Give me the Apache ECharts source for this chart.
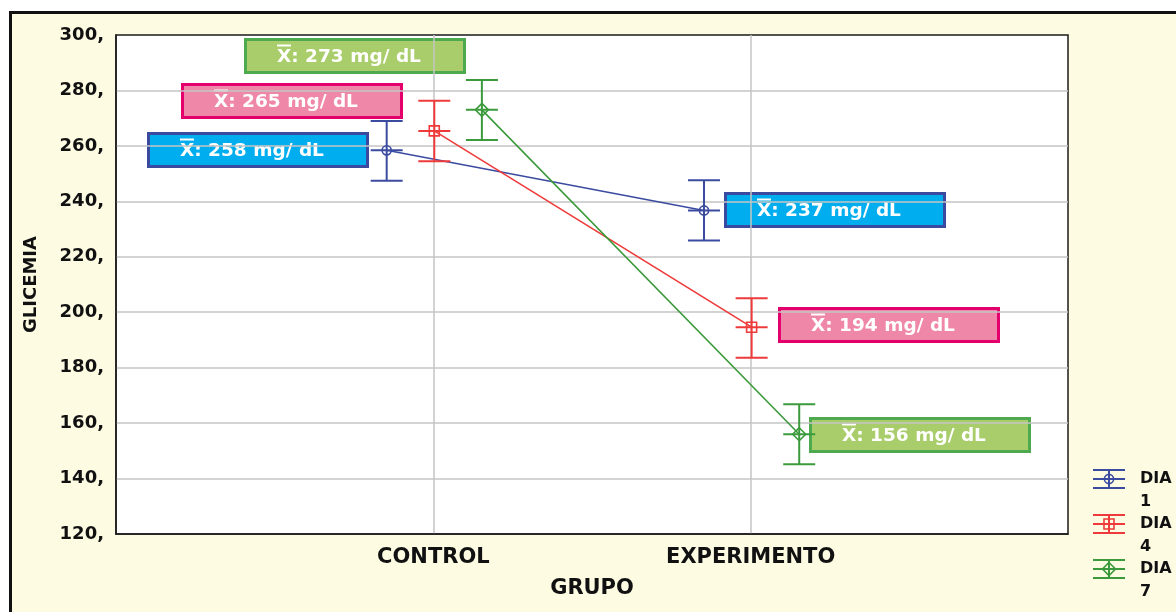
<!DOCTYPE html>
<html>
<head>
<meta charset="utf-8">
<script src="https://cdn.jsdelivr.net/npm/echarts@6/dist/echarts.min.js"></script>
<style>html,body{margin:0;padding:0;background:#fff;}#c{width:1176px;height:612px;}</style>
</head>
<body>
<div id="c"></div>
<script>
// ---- data ----
const categories = ['CONTROL', 'EXPERIMENTO'];
const seriesNames = ['DIA 1', 'DIA 4', 'DIA 7'];
const legendLabels = ['DIA\n1', 'DIA\n4', 'DIA\n7'];
const yTicks = [120, 140, 160, 180, 200, 220, 240, 260, 280, 300];

const dia1Mean = [258.4, 236.7];
const dia1Low  = [247.4, 225.9];
const dia1High = [269.0, 247.6];

const dia4Mean = [265.4, 194.6];
const dia4Low  = [254.5, 183.6];
const dia4High = [276.3, 205.0];

const dia7Mean = [273.0, 156.0];
const dia7Low  = [262.1, 145.2];
const dia7High = [283.8, 166.8];

const dia1Label = [258, 237];
const dia4Label = [265, 194];
const dia7Label = [273, 156];

// ---- styling ----
const FONT = '"DejaVu Sans", sans-serif';
const colors = ['#3B4BA0', '#EE3A3A', '#3B9A3B'];
const boxFill = ['#00AEEF', '#EF87A8', '#A9CD6B'];
const boxStroke = ['#3A4A9E', '#E4006C', '#4FAA4F'];
const markers = ['circle', 'square', 'diamond'];
const offsets = [-0.147, 0.003, 0.153];
const means = [dia1Mean, dia4Mean, dia7Mean];
const lows = [dia1Low, dia4Low, dia7Low];
const highs = [dia1High, dia4High, dia7High];
const labelVals = [dia1Label, dia4Label, dia7Label];
// box layout (pixel left/top) for [series][category]
const boxPos = [
  [[147, 132], [724, 192]],
  [[181, 83], [778, 307]],
  [[244, 38], [809, 417]]
];

function markerEl(type, cx, cy, color) {
  const style = { stroke: color, lineWidth: 1.6, fill: 'rgba(255,255,255,0)' };
  if (type === 'circle') return { type: 'circle', shape: { cx, cy, r: 4.6 }, style };
  if (type === 'square') return { type: 'rect', shape: { x: cx - 5, y: cy - 5, width: 10, height: 10 }, style };
  return { type: 'polygon', shape: { points: [[cx, cy - 6.5], [cx + 6.5, cy], [cx, cy + 6.5], [cx - 6.5, cy]] }, style };
}

function errorGlyph(cx, cy, yl, yh, hw, color, marker) {
  const ls = { stroke: color, lineWidth: 2 };
  return [
    { type: 'line', shape: { x1: cx, y1: yh, x2: cx, y2: yl }, style: ls },
    { type: 'line', shape: { x1: cx - hw, y1: yh, x2: cx + hw, y2: yh }, style: ls },
    { type: 'line', shape: { x1: cx - hw, y1: yl, x2: cx + hw, y2: yl }, style: ls },
    { type: 'line', shape: { x1: cx - hw, y1: cy, x2: cx + hw, y2: cy }, style: ls },
    markerEl(marker, cx, cy, color)
  ];
}

const series = [];
seriesNames.forEach((name, i) => {
  series.push({
    type: 'line', name: name,
    data: categories.map((c, k) => [k + 1 + offsets[i], means[i][k]]),
    symbol: 'none',
    lineStyle: { color: colors[i], width: 1.6 },
    z: 2, silent: true, animation: false
  });
  series.push({
    type: 'custom', name: name,
    data: categories.map((c, k) => [k + 1 + offsets[i], means[i][k], lows[i][k], highs[i][k]]),
    renderItem: function (params, api) {
      const pm = api.coord([api.value(0), api.value(1)]);
      const pl = api.coord([api.value(0), api.value(2)]);
      const ph = api.coord([api.value(0), api.value(3)]);
      return { type: 'group', children: errorGlyph(pm[0], pm[1], pl[1], ph[1], 16, colors[i], markers[i]) };
    },
    z: 3, silent: true, animation: false
  });
});

const graphics = [
  { type: 'rect', z: -100, shape: { x: 10.5, y: 12.5, width: 1200, height: 650 },
    style: { fill: '#FEFBE3', stroke: '#111', lineWidth: 3 }, silent: true }
];
// annotation boxes
seriesNames.forEach((name, i) => {
  categories.forEach((c, k) => {
    const [bx, by] = boxPos[i][k];
    graphics.push({
      type: 'group', z: 100, x: bx, y: by,
      children: [
        { type: 'rect', shape: { x: 1.5, y: 1.5, width: 219, height: 33 },
          style: { fill: boxFill[i], stroke: boxStroke[i], lineWidth: 3 } },
        { type: 'rect', shape: { x: 33, y: 6.5, width: 14, height: 2 }, style: { fill: '#fff' } },
        { type: 'text', x: 33, y: 19,
          style: { text: 'X: ' + labelVals[i][k] + ' mg/ dL', fill: '#fff',
                   font: 'bold 18.5px ' + FONT, textVerticalAlign: 'middle', textAlign: 'left' } }
      ]
    });
  });
});
// legend
seriesNames.forEach((name, i) => {
  const cx = 1109, cy = 479 + 45 * i;
  graphics.push({
    type: 'group', z: 100,
    children: errorGlyph(cx, cy, cy + 9, cy - 9, 16, colors[i], markers[i]).concat([
      { type: 'text', x: 1140, y: cy - 12,
        style: { text: legendLabels[i], fill: '#111', font: 'bold 16px ' + FONT,
                 lineHeight: 23, textVerticalAlign: 'top', textAlign: 'left' } }
    ])
  });
});

const chart = echarts.init(document.getElementById('c'), null, { renderer: 'canvas' });
chart.setOption({
  backgroundColor: '#ffffff',
  animation: false,
  textStyle: { fontFamily: FONT },
  grid: { left: 116, top: 35, right: 108, bottom: 78, show: true,
          backgroundColor: '#ffffff', borderColor: '#1a1a1a', borderWidth: 1.5 },
  xAxis: {
    type: 'value', min: 0, max: 3, interval: 1,
    name: 'GRUPO', nameLocation: 'middle', nameGap: 44,
    nameTextStyle: { fontFamily: FONT, fontWeight: 'bold', fontSize: 21, color: '#111' },
    axisLine: { show: true, lineStyle: { color: '#1a1a1a', width: 1.5 } },
    axisTick: { show: false },
    axisLabel: { margin: 13, fontFamily: FONT, fontWeight: 'bold', fontSize: 21, color: '#111',
                 formatter: v => (v >= 1 && v <= categories.length) ? categories[v - 1] : '' },
    splitLine: { show: true, showMinLine: false, showMaxLine: false, lineStyle: { color: '#c4c4c4', width: 1.5 } }
  },
  yAxis: {
    type: 'value', min: yTicks[0], max: yTicks[yTicks.length - 1], interval: 20,
    name: 'GLICEMIA', nameLocation: 'middle', nameGap: 76, nameRotate: 90,
    nameTextStyle: { fontFamily: FONT, fontWeight: 'bold', fontSize: 18, color: '#111' },
    axisLine: { show: true, lineStyle: { color: '#1a1a1a', width: 1.5 } },
    axisTick: { show: false },
    axisLabel: { margin: 12, fontFamily: FONT, fontWeight: 'bold', fontSize: 18, color: '#111',
                 padding: [4, 0, 0, 0], formatter: v => v + ',' },
    splitLine: { show: true, showMinLine: false, showMaxLine: false, lineStyle: { color: '#c4c4c4', width: 1.5 } }
  },
  graphic: graphics,
  series: series
});
</script>
</body>
</html>
